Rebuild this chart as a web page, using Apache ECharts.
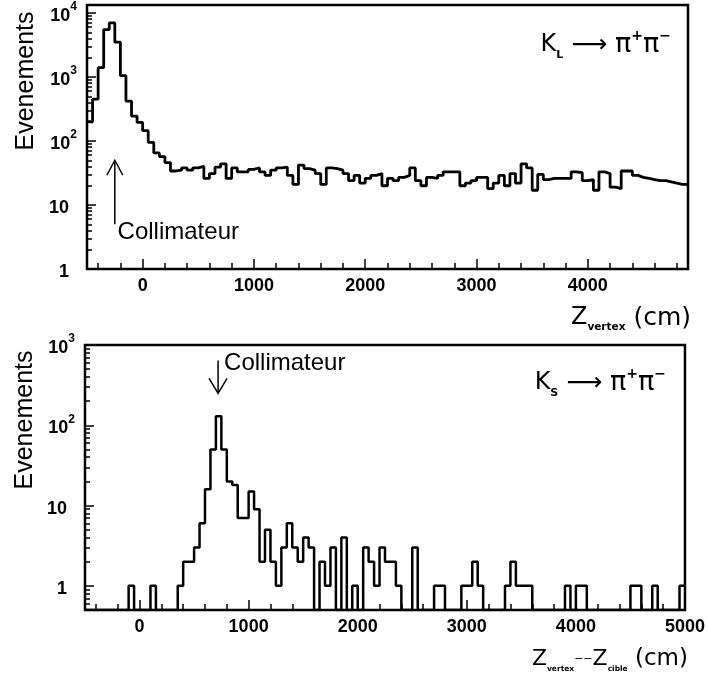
<!DOCTYPE html>
<html><head><meta charset="utf-8">
<script src="https://cdn.jsdelivr.net/npm/echarts@6/dist/echarts.min.js"></script>
<style>html,body{margin:0;padding:0;background:#fff}#c{width:708px;height:681px}</style>
</head><body><div id="c"></div>
<script>
// ---------------- data ----------------
const BIN_WIDTH = 50;
// Top panel: K_L -> pi+ pi-, Z_vertex from -500 to 4900 cm, 50 cm bins
const topStart = -500;
const topCounts = [200,450,1400,5500,7000,3500,1050,420,245,195,
  145,95,65,57,46,34,35,38,35,38,
  40,26,31,39,44,26,38,33,33,36,
  38,33,29,35,38,39,29,21,42,37,
  35,31,21,38,37,35,31,24,29,22,
  26,29,31,20,26,24,27,29,38,24,
  20,27,26,29,33,33,33,20,22,24,
  27,27,18,22,29,20,31,22,44,38,
  17,30,25,26,26,26,26,33,32,24,
  25,17,33,31,19,18,34,34,29,27,
  26,25,24,24,23,22,21,21];
// Bottom panel: K_S -> pi+ pi-, Z_vertex - Z_cible from -500 to 5000 cm, 50 cm bins
const botStart = -500;
const botCounts = [0,0,0,0,0,0,0,0,1,0,
  0,0,1,0,0,0,0,1,2,2,
  3,6,16,50,130,50,20,18,7,7,
  15,9,2,5,2,1,3,6,3,2,
  4,3,0,2,1,3,0,4,0,1,
  0,3,2,1,3,2,2,1,0,0,
  3,0,0,0,1,1,0,0,0,1,
  1,2,1,0,0,0,0,1,2,1,
  1,1,0,0,0,0,0,0,1,0,
  1,1,0,0,0,0,0,0,0,0,
  1,1,0,0,1,0,0,0,0,1];
// axis ranges and tick labels
const topXRange = [-500, 4900];
const botXRange = [-500, 5000];
const topYRange = [1, 13335];
const botYRange = [0.5, 1000];
const topXLabels = [0, 1000, 2000, 3000, 4000];
const botXLabels = [0, 1000, 2000, 3000, 4000, 5000];
const topYLabels = [1, 10, 100, 1000, 10000];
const botYLabels = [1, 10, 100, 1000];
const X_MINOR_STEP = 200;
// annotations (data coordinates)
const topArrow = {x: -250, from: 5, to: 50, textX: -225, textY: 3.8};
const botArrow = {x: 720, from: 640, to: 250, textX: 775, textY: 590};

// ---------------- helpers ----------------
function stepData(start, counts, floor) {
  const d = counts.map((c, i) => [start + i * BIN_WIDTH, c > 0 ? c : floor]);
  const last = counts[counts.length - 1];
  d.push([start + counts.length * BIN_WIDTH, last > 0 ? last : floor]);
  return d;
}
function minorLog(min, max) {
  const out = [];
  for (let e = Math.floor(Math.log10(min)) - 1; e <= Math.ceil(Math.log10(max)); e++) {
    for (let m = 2; m <= 9; m++) {
      const v = +(m * Math.pow(10, e)).toPrecision(3);
      if (v > min && v < max) out.push(v);
    }
  }
  return out;
}
function stepsBetween(a, b, step) {
  const out = [];
  for (let v = Math.ceil(a / step) * step; v <= b; v += step) out.push(v);
  return out;
}

const FONT = 'Liberation Sans';
const yRich = {
  b: {fontFamily: FONT, fontWeight: 'bold', fontSize: 18, lineHeight: 24, verticalAlign: 'bottom', color: '#000'},
  s: {fontFamily: FONT, fontWeight: 'bold', fontSize: 12, lineHeight: 12, verticalAlign: 'top', color: '#000'},
  sp: {width: 8, fontSize: 12, lineHeight: 12}
};
function yFmt(v) {
  const e = Math.round(Math.log10(v));
  if (e === 0) return '{b|1}{sp| }';
  if (e === 1) return '{b|10}{sp| }';
  return '{b|10}{s|' + e + '}';
}

function mainX(gridIndex, range, labels) {
  return {
    type: 'value', gridIndex, min: range[0], max: range[1], position: 'bottom',
    axisLine: {show: true, onZero: false, lineStyle: {color: '#000', width: 2}},
    axisTick: {show: true, inside: true, length: 10, customValues: labels, lineStyle: {color: '#000', width: 1.5}},
    axisLabel: {show: true, customValues: labels, margin: 8, color: '#000', fontFamily: FONT, fontWeight: 'bold', fontSize: 18,
                formatter: v => String(v)},
    splitLine: {show: false}
  };
}
function minorX(gridIndex, range) {
  return {
    type: 'value', gridIndex, min: range[0], max: range[1], position: 'bottom',
    axisLine: {show: false, onZero: false},
    axisTick: {show: true, inside: true, length: 6, customValues: stepsBetween(range[0] + 1, range[1] - 1, X_MINOR_STEP), lineStyle: {color: '#000', width: 1.5}},
    axisLabel: {show: false}, splitLine: {show: false}
  };
}
function mainY(gridIndex, range, labels) {
  return {
    type: 'log', logBase: 10, gridIndex, min: range[0], max: range[1], position: 'left',
    axisLine: {show: true, onZero: false, lineStyle: {color: '#000', width: 2}},
    axisTick: {show: true, inside: true, length: 9, customValues: labels, lineStyle: {color: '#000', width: 1.5}},
    axisLabel: {show: true, customValues: labels, margin: 10, formatter: yFmt, rich: yRich},
    splitLine: {show: false}
  };
}
function minorY(gridIndex, range) {
  return {
    type: 'log', logBase: 10, gridIndex, min: range[0], max: range[1], position: 'left',
    axisLine: {show: false, onZero: false},
    axisTick: {show: true, inside: true, length: 5, customValues: minorLog(range[0], range[1]), lineStyle: {color: '#000', width: 1.5}},
    axisLabel: {show: false}, splitLine: {show: false}
  };
}

const chart = echarts.init(document.getElementById('c'), null, {renderer: 'canvas'});
const option = {
  animation: false,
  backgroundColor: '#fff',
  grid: [
    {left: 87, top: 5, right: 20, height: 264, show: true, borderColor: '#000', borderWidth: 2.5, backgroundColor: 'transparent'},
    {left: 85, top: 345, right: 21, height: 265, show: true, borderColor: '#000', borderWidth: 2.5, backgroundColor: 'transparent'}
  ],
  xAxis: [mainX(0, topXRange, topXLabels), mainX(1, botXRange, botXLabels), minorX(0, topXRange), minorX(1, botXRange)],
  yAxis: [mainY(0, topYRange, topYLabels), mainY(1, botYRange, botYLabels), minorY(0, topYRange), minorY(1, botYRange)],
  series: [
    {type: 'line', xAxisIndex: 0, yAxisIndex: 0, step: 'end', showSymbol: false, clip: true,
     lineStyle: {color: '#000', width: 2.8}, data: stepData(topStart, topCounts, topYRange[0])},
    {type: 'line', xAxisIndex: 1, yAxisIndex: 1, step: 'end', showSymbol: false, clip: true,
     lineStyle: {color: '#000', width: 2.5}, data: stepData(botStart, botCounts, botYRange[0])}
  ]
};
chart.setOption(option);

function px(xi, yi, x, y) { return chart.convertToPixel({xAxisIndex: xi, yAxisIndex: yi}, [x, y]); }
const tA = px(0, 0, topArrow.x, topArrow.from), tB = px(0, 0, topArrow.x, topArrow.to);
const bA = px(1, 1, botArrow.x, botArrow.from), bB = px(1, 1, botArrow.x, botArrow.to);
const tT = px(0, 0, topArrow.textX, topArrow.textY);
const bT = px(1, 1, botArrow.textX, botArrow.textY);

const DV = 'DejaVu Sans';
const kRich = {
  k: {fontFamily: DV, fontSize: 24, lineHeight: 32, verticalAlign: 'middle', color: '#000'},
  sub: {fontFamily: DV, fontSize: 11, lineHeight: 12, verticalAlign: 'bottom', color: '#000', fontWeight: 'bold'},
  a: {fontFamily: DV, fontSize: 25, lineHeight: 32, verticalAlign: 'middle', color: '#000'},
  p: {fontFamily: DV, fontSize: 27, lineHeight: 32, verticalAlign: 'middle', color: '#000'},
  sup: {fontFamily: DV, fontSize: 14, lineHeight: 14, verticalAlign: 'top', color: '#000', fontWeight: 'bold'}
};
const zRichTop = {
  z: {fontFamily: DV, fontSize: 24, lineHeight: 30, verticalAlign: 'middle', color: '#000'},
  sub: {fontFamily: DV, fontSize: 10.5, lineHeight: 10, verticalAlign: 'bottom', color: '#000', fontWeight: 'bold'},
  t: {fontFamily: DV, fontSize: 25, lineHeight: 30, verticalAlign: 'middle', color: '#000'}
};
const zRichBot = {
  z: {fontFamily: DV, fontSize: 22, lineHeight: 28, verticalAlign: 'middle', color: '#000'},
  sub: {fontFamily: DV, fontSize: 7.5, lineHeight: 9, verticalAlign: 'bottom', color: '#000', fontWeight: 'bold'},
  t: {fontFamily: DV, fontSize: 23, lineHeight: 28, verticalAlign: 'middle', color: '#000'},
  d: {fontFamily: DV, fontSize: 11, lineHeight: 28, verticalAlign: 'middle', color: '#000'}
};
const graphics = [
  {type: 'text', x: 26, y: 81, rotation: Math.PI / 2,
   style: {text: 'Evenements', fontFamily: FONT, fontSize: 25, fill: '#000', align: 'center', verticalAlign: 'middle'}},
  {type: 'text', x: 25, y: 420, rotation: Math.PI / 2,
   style: {text: 'Evenements', fontFamily: FONT, fontSize: 25, fill: '#000', align: 'center', verticalAlign: 'middle'}},
  {type: 'text', x: 671, y: 45,
   style: {text: '{k|K}{sub|L}{a| ⟶ }{p|π}{sup|+}{p|π}{sup|−}', rich: kRich, align: 'right', verticalAlign: 'middle'}},
  {type: 'text', x: 666, y: 383,
   style: {text: '{k|K}{sub|S}{a| ⟶ }{p|π}{sup|+}{p|π}{sup|−}', rich: kRich, align: 'right', verticalAlign: 'middle'}},
  {type: 'text', x: 691, y: 318,
   style: {text: '{z|Z}{sub|vertex}{t| (cm)}', rich: zRichTop, align: 'right', verticalAlign: 'middle'}},
  {type: 'text', x: 688, y: 659,
   style: {text: '{z|Z}{sub|vertex}{d|−−}{z|Z}{sub|cible}{t| (cm)}', rich: zRichBot, align: 'right', verticalAlign: 'middle'}},
  // top arrow
  {type: 'line', shape: {x1: tA[0], y1: tA[1], x2: tB[0], y2: tB[1]}, style: {stroke: '#000', lineWidth: 1.5}},
  {type: 'polyline', shape: {points: [[tB[0] - 8, tB[1] + 15], [tB[0], tB[1]], [tB[0] + 8, tB[1] + 15]]}, style: {stroke: '#000', lineWidth: 1.5, fill: null}},
  {type: 'text', x: tT[0], y: tT[1],
   style: {text: 'Collimateur', fontFamily: FONT, fontSize: 24, fill: '#000', align: 'left', verticalAlign: 'middle'}},
  // bottom arrow
  {type: 'line', shape: {x1: bA[0], y1: bA[1], x2: bB[0], y2: bB[1]}, style: {stroke: '#000', lineWidth: 1.5}},
  {type: 'polyline', shape: {points: [[bB[0] - 9, bB[1] - 15], [bB[0], bB[1]], [bB[0] + 9, bB[1] - 15]]}, style: {stroke: '#000', lineWidth: 1.5, fill: null}},
  {type: 'text', x: bT[0], y: bT[1],
   style: {text: 'Collimateur', fontFamily: FONT, fontSize: 24, fill: '#000', align: 'left', verticalAlign: 'middle'}}
];
chart.setOption({graphic: graphics});
</script>
</body></html>
